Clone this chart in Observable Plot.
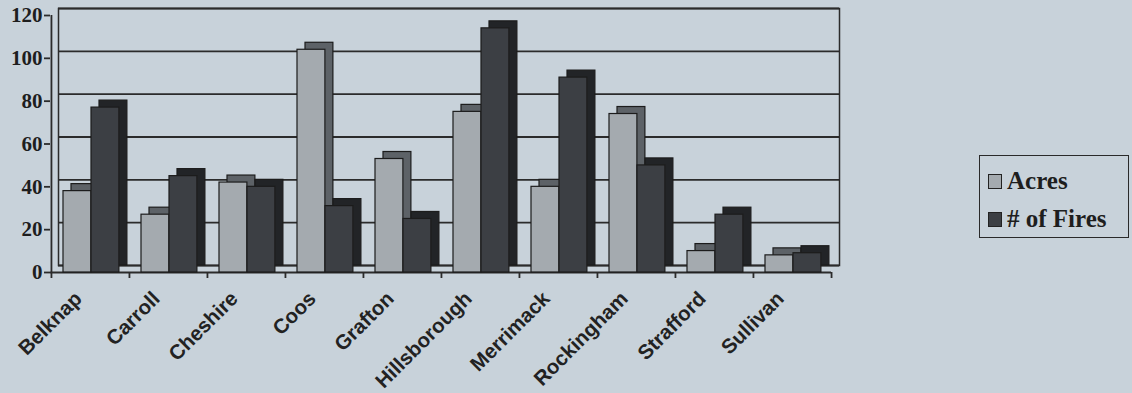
<!DOCTYPE html>
<html>
<head>
<meta charset="utf-8">
<script src="https://cdn.jsdelivr.net/npm/d3@7"></script>
<script src="https://cdn.jsdelivr.net/npm/@observablehq/plot@0.6"></script>
<style>
  html, body { margin: 0; padding: 0; background: #c8d2da; }
  #wrap { position: relative; width: 1132px; height: 393px; overflow: hidden; }
  #legend { position: absolute; left: 979px; top: 155px; width: 150px; height: 83px;
    border: 1.5px solid #2a2a2a; box-sizing: border-box; font-family: "Liberation Serif", serif;
    font-weight: bold; font-size: 25px; color: #1e1e1e; padding: 6px 0 0 8px; }
  .item { display: flex; align-items: center; height: 38px; }
  .sw { width: 14px; height: 15px; border: 1px solid #222; margin-right: 5px; box-sizing: border-box; }
</style>
</head>
<body>
<div id="wrap"><div id="legend"></div></div>
<script>
const counties = ["Belknap","Carroll","Cheshire","Coos","Grafton","Hillsborough","Merrimack","Rockingham","Strafford","Sullivan"];
const acres = [38, 27, 42, 104, 53, 75, 40, 74, 10, 8];
const fires = [77, 45, 40, 31, 25, 114, 91, 50, 27, 9];
const yTicks = [0, 20, 40, 60, 80, 100, 120];
const seriesNames = ["Acres", "# of Fires"];
const seriesColors = ["#a4aaaf", "#3c3f44"];
const seriesSide = ["#5d6267", "#222427"];

const data = counties.map((c, i) => ({county: c, acres: acres[i], fires: fires[i]}));

const W = 1132, H = 393, mL = 50, mR = 301, mT = 15, mB = 121;
const bw = (W - mL - mR) / counties.length;
const DX = 8, DY = -7;

const chart = Plot.plot({
  width: W, height: H,
  marginLeft: mL, marginRight: mR, marginTop: mT, marginBottom: mB,
  style: {background: "transparent"},
  x: {type: "band", domain: counties, padding: 0, axis: null},
  y: {domain: [0, 120], axis: null},
  marks: [
    Plot.ruleY(yTicks, {dx: DX, dy: DY, stroke: "#2b2b2b", strokeWidth: 1.8}),
    Plot.frame({dx: DX, dy: DY, stroke: "#2b2b2b", strokeWidth: 1.5}),
    Plot.ruleX([counties[0]], {dx: -bw / 2, y1: 0, y2: 120, stroke: "#2b2b2b", strokeWidth: 1.8}),
    Plot.ruleY([0], {stroke: "#2b2b2b", strokeWidth: 1.8}),
    Plot.ruleX(counties, {x: d => d, y1: 0, y2: 0, dx: -bw / 2, insetBottom: -6, stroke: "#2b2b2b", strokeWidth: 1.8}),
    Plot.ruleX([counties[counties.length - 1]], {y1: 0, y2: 0, dx: bw / 2, insetBottom: -6, stroke: "#2b2b2b", strokeWidth: 1.8}),
    Plot.barY(data, {x: "county", y: "acres", insetLeft: 12, insetRight: bw - 40, dx: DX, dy: DY, fill: seriesSide[0], stroke: "#1c1c1c", strokeWidth: 1.2}),
    Plot.barY(data, {x: "county", y: "acres", insetLeft: 12, insetRight: bw - 40, fill: seriesColors[0], stroke: "#1c1c1c", strokeWidth: 1.2}),
    Plot.barY(data, {x: "county", y: "fires", insetLeft: 40, insetRight: bw - 68, dx: DX, dy: DY, fill: seriesSide[1], stroke: "#1c1c1c", strokeWidth: 1.2}),
    Plot.barY(data, {x: "county", y: "fires", insetLeft: 40, insetRight: bw - 68, fill: seriesColors[1], stroke: "#1c1c1c", strokeWidth: 1.2}),
    Plot.axisY(yTicks, {tickSize: 6, tickPadding: 2, stroke: "#2b2b2b", strokeWidth: 1.8,
      fontSize: 21, fontWeight: "bold", fontFamily: "Liberation Serif, serif", fill: "#1e1e1e"}),
    Plot.axisX({tickSize: 0, tickRotate: -45, dx: -12, dy: 11, label: null,
      fontSize: 20.5, fontWeight: "bold", fontFamily: "Liberation Sans, Arial, sans-serif", fill: "#222"})
  ]
});
document.getElementById("wrap").prepend(chart);

const legend = document.getElementById("legend");
seriesNames.forEach((name, i) => {
  const item = document.createElement("div");
  item.className = "item";
  const sw = document.createElement("div");
  sw.className = "sw";
  sw.style.background = seriesColors[i];
  const t = document.createElement("span");
  t.textContent = name;
  item.appendChild(sw); item.appendChild(t);
  legend.appendChild(item);
});
</script>
</body>
</html>
